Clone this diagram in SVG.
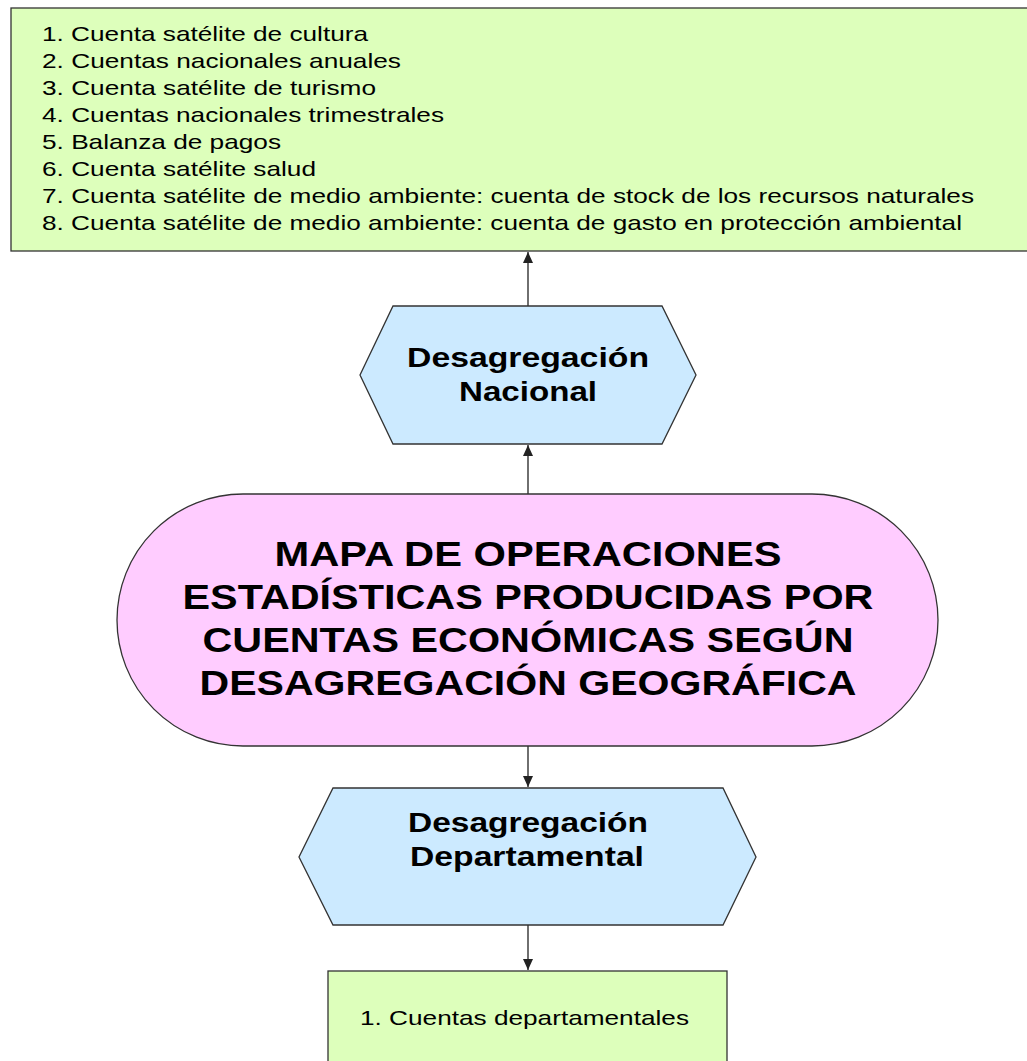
<svg xmlns="http://www.w3.org/2000/svg" width="1027" height="1061" viewBox="0 0 1027 1061">
<defs>
<style>
.box{fill:#ddffbb;stroke:#333;stroke-width:1.3}
.hex{fill:#cceaff;stroke:#333;stroke-width:1.3}
.term{fill:#ffccff;stroke:#333;stroke-width:1.3}
text{font-family:"Liberation Sans",Arial,sans-serif;fill:#000}
.lst{font-size:21px}
.hx{font-size:27px;font-weight:bold;text-anchor:middle}
.tt{font-size:35px;font-weight:bold;text-anchor:middle}
.con{stroke:#222;stroke-width:1.3;fill:none;marker-end:url(#ah)}
</style>
<marker id="ah" markerWidth="12" markerHeight="10" refX="11" refY="5" orient="auto" markerUnits="userSpaceOnUse">
<path d="M0,0 L11,5 L0,10 Z" fill="#222"/>
</marker>
</defs>
<rect width="1027" height="1061" fill="#fff"/>
<g id="connectors">
<line class="con" x1="528" y1="306" x2="528" y2="252"/>
<line class="con" x1="528" y1="494" x2="528" y2="445"/>
<line class="con" x1="528" y1="746" x2="528" y2="787"/>
<line class="con" x1="528" y1="925" x2="528" y2="970"/>
</g>
<g id="nacional-list">
<rect class="box" x="11" y="8" width="1030" height="243"/>
<text class="lst" x="42" y="41" textLength="326" lengthAdjust="spacingAndGlyphs">1. Cuenta satélite de cultura</text>
<text class="lst" x="42" y="68" textLength="359" lengthAdjust="spacingAndGlyphs">2. Cuentas nacionales anuales</text>
<text class="lst" x="42" y="95" textLength="334" lengthAdjust="spacingAndGlyphs">3. Cuenta satélite de turismo</text>
<text class="lst" x="42" y="122" textLength="402" lengthAdjust="spacingAndGlyphs">4. Cuentas nacionales trimestrales</text>
<text class="lst" x="42" y="149" textLength="239" lengthAdjust="spacingAndGlyphs">5. Balanza de pagos</text>
<text class="lst" x="42" y="176" textLength="274" lengthAdjust="spacingAndGlyphs">6. Cuenta satélite salud</text>
<text class="lst" x="42" y="203" textLength="932" lengthAdjust="spacingAndGlyphs">7. Cuenta satélite de medio ambiente: cuenta de stock de los recursos naturales</text>
<text class="lst" x="42" y="230" textLength="920" lengthAdjust="spacingAndGlyphs">8. Cuenta satélite de medio ambiente: cuenta de gasto en protección ambiental</text>
</g>
<g id="desagregacion-nacional">
<polygon class="hex" points="393,306 662,306 696,375 662,444 393,444 360,375"/>
<text class="hx" x="528" y="367" textLength="242" lengthAdjust="spacingAndGlyphs">Desagregación</text>
<text class="hx" x="528" y="401" textLength="138" lengthAdjust="spacingAndGlyphs">Nacional</text>
</g>
<g id="mapa">
<rect class="term" x="117" y="494" width="821" height="252" rx="126" ry="126"/>
<text class="tt" x="528" y="566" textLength="507" lengthAdjust="spacingAndGlyphs">MAPA DE OPERACIONES</text>
<text class="tt" x="528" y="609" textLength="691" lengthAdjust="spacingAndGlyphs">ESTADÍSTICAS PRODUCIDAS POR</text>
<text class="tt" x="528" y="652" textLength="651" lengthAdjust="spacingAndGlyphs">CUENTAS ECONÓMICAS SEGÚN</text>
<text class="tt" x="528" y="695" textLength="657" lengthAdjust="spacingAndGlyphs">DESAGREGACIÓN GEOGRÁFICA</text>
</g>
<g id="desagregacion-departamental">
<polygon class="hex" points="333,788 723,788 756,857 723,925 333,925 299,857"/>
<text class="hx" x="528" y="832" textLength="240" lengthAdjust="spacingAndGlyphs">Desagregación</text>
<text class="hx" x="527" y="866" textLength="234" lengthAdjust="spacingAndGlyphs">Departamental</text>
</g>
<g id="departamental-list">
<rect class="box" x="328" y="971" width="399" height="100"/>
<text class="lst" x="360" y="1025" textLength="329" lengthAdjust="spacingAndGlyphs">1. Cuentas departamentales</text>
</g>
</svg>
